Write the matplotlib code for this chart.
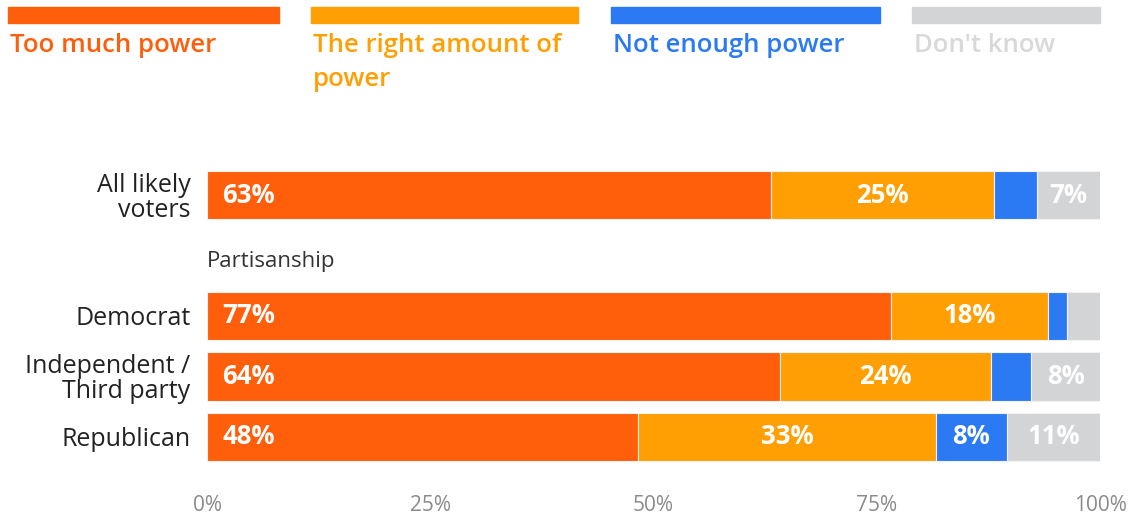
import matplotlib.pyplot as plt
from matplotlib.patches import Rectangle

plt.rcParams['font.family'] = ['Open Sans', 'DejaVu Sans']

categories = ["All likely\nvoters", "Democrat", "Independent /\nThird party", "Republican"]
rows = [0, 2, 3, 4]
too_much = [63.2, 76.6, 64.2, 48.3]
right_amount = [24.9, 17.6, 23.6, 33.3]
not_enough = [4.8, 2.1, 4.5, 8.0]
dont_know = [7.2, 3.7, 7.7, 10.5]

series_names = ["Too much power", "The right amount of\npower", "Not enough power", "Don't know"]
colors = ["#ff5e0a", "#ff9f03", "#2b7af3", "#d3d4d6"]
legend_text_colors = ["#ff5e0a", "#ff9f03", "#2b7af3", "#d8d8d8"]
xticks = [0, 25, 50, 75, 100]

W, H = 1135, 517
fig = plt.figure(figsize=(W / 100, H / 100), dpi=100)
ax = fig.add_axes([207 / W, 1 - 467 / H, 893 / W, 302 / H])

series = [too_much, right_amount, not_enough, dont_know]
left = [0.0] * len(rows)
for i, (vals, col) in enumerate(zip(series, colors)):
    ax.barh(rows, vals, left=left, height=0.8, color=col, edgecolor="#f2f2f2", linewidth=0.8)
    for y, l, v in zip(rows, left, vals):
        if v < 6:
            continue
        txt = "%d%%" % int(v + 0.5)
        if i == 0:
            ax.text(l + 1.7, y, txt, ha="left", va="center", color="white",
                    fontsize=18.5, fontweight="bold")
        else:
            ax.text(l + v / 2, y, txt, ha="center", va="center", color="white",
                    fontsize=18.5, fontweight="bold")
    left = [a + b for a, b in zip(left, vals)]

ax.text(0, 1.1, "Partisanship", ha="left", va="center", fontsize=16, color="#333333")

ax.set_xlim(0, 100)
ax.set_ylim(4.5, -0.5)
ax.set_yticks(rows)
ax.set_yticklabels(categories, fontsize=18, color="#222222", linespacing=1.0)
for lab in ax.get_yticklabels():
    lab.set_multialignment("right")
ax.set_xticks(xticks)
ax.set_xticklabels(["%d%%" % t for t in xticks], fontsize=15, color="#8a8a8a")
ax.tick_params(axis="y", length=0, pad=12)
ax.tick_params(axis="x", length=0, pad=20)
for s in ax.spines.values():
    s.set_visible(False)

# legend across the top
leg_x = [(8, 279), (311, 578), (611, 880), (912, 1100)]
for (x0, x1), name, col, tcol in zip(leg_x, series_names, colors, legend_text_colors):
    fig.patches.append(Rectangle((x0 / W, 1 - 23 / H), (x1 - x0) / W, 16 / H,
                                 transform=fig.transFigure, color=col))
    fig.text((x0 + 2) / W, 1 - 33 / H, name, ha="left", va="top", fontsize=18.5,
             fontweight="semibold", color=tcol, linespacing=1.45)

fig.savefig("out.png", dpi=100)
